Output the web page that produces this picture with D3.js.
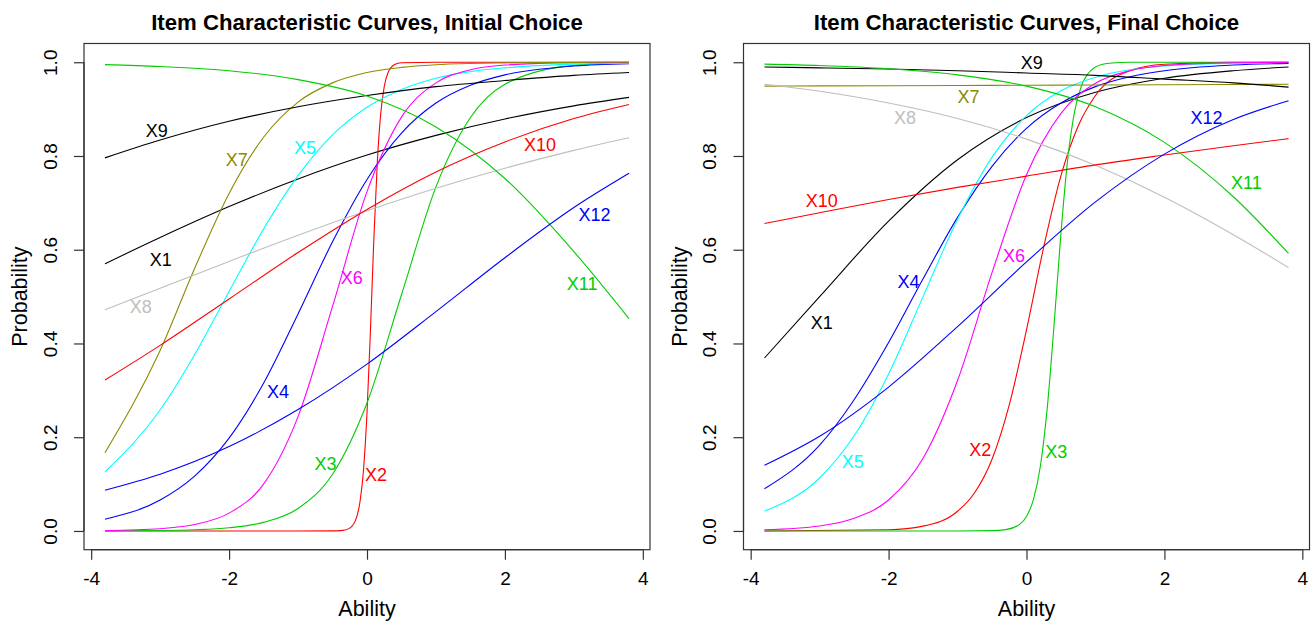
<!DOCTYPE html>
<html>
<head>
<meta charset="utf-8">
<script src="https://cdn.jsdelivr.net/npm/d3@7"></script>
<style>
  body { margin: 0; background: #ffffff; }
  svg { display: block; font-family: "Liberation Sans", Arial, Helvetica, sans-serif; }
</style>
</head>
<body>
<svg id="chart" width="1315" height="624"></svg>
<script>
// ---- Ability grids the curves are evaluated on ----
const abilityCoarse = [-3.8, -3, -2, -1, 0, 1, 2, 3, 3.8];
const abilityHalf = [-3.8, -3, -2.5, -2, -1.5, -1, -0.5, 0, 0.5, 1, 1.5, 2, 3, 3.8];
const abilityInitX2 = [-3.8, -1, -0.5, -0.35, -0.25, -0.15, -0.1, -0.05, 0, 0.05, 0.1, 0.15, 0.2, 0.25, 0.3, 0.4, 0.5, 1, 2, 3.8];
const abilityFinalX2 = [-3.8, -2, -1.5, -1, -0.75, -0.5, -0.25, 0, 0.25, 0.5, 0.75, 1, 1.5, 2, 3, 3.8];
const abilityFinalX3 = [-3.8, -1, -0.5, -0.3, -0.1, 0, 0.1, 0.2, 0.3, 0.4, 0.5, 0.6, 0.7, 0.8, 0.9, 1, 1.2, 1.5, 2, 3.8];

// ---- Items ----
const items = ["X1", "X2", "X3", "X4", "X5", "X6", "X7", "X8", "X9", "X10", "X11", "X12"];
const itemColors = ["#000000", "#FF0000", "#00CD00", "#0000FF", "#00FFFF", "#FF00FF",
                    "#8B8B00", "#BEBEBE", "#000000", "#FF0000", "#00CD00", "#0000FF"];

// ---- Probabilities, initial choice ----
const initX1  = [0.570, 0.626, 0.692, 0.751, 0.802, 0.844, 0.879, 0.907, 0.925];
const initX2  = [0, 0, 0.0001, 0.0012, 0.0061, 0.0296, 0.064, 0.131, 0.252, 0.428, 0.625, 0.788, 0.892, 0.948, 0.976, 0.995, 0.999, 1, 1, 1];
const initX3  = [0.0002, 0.0009, 0.0025, 0.0068, 0.0183, 0.048, 0.121, 0.273, 0.504, 0.734, 0.882, 0.953, 0.9934, 0.9986];
const initX4  = [0.025, 0.066, 0.117, 0.198, 0.315, 0.463, 0.617, 0.750, 0.849, 0.913, 0.951, 0.973, 0.992, 0.997];
const initX5  = [0.126, 0.258, 0.376, 0.511, 0.644, 0.758, 0.845, 0.904, 0.942, 0.966, 0.980, 0.988, 0.996, 0.998];
const initX6  = [0.0009, 0.0048, 0.0136, 0.038, 0.100, 0.244, 0.479, 0.724, 0.883, 0.956, 0.984, 0.994, 0.9993, 0.9999];
const initX7  = [0.167, 0.385, 0.560, 0.720, 0.840, 0.915, 0.956, 0.978, 0.989, 0.9946, 0.9973, 0.9987, 0.9997, 0.9999];
const initX8  = [0.472, 0.518, 0.575, 0.631, 0.683, 0.731, 0.774, 0.812, 0.839];
const initX9  = [0.796, 0.834, 0.874, 0.905, 0.929, 0.948, 0.961, 0.972, 0.978];
const initX10 = [0.322, 0.396, 0.495, 0.594, 0.686, 0.766, 0.830, 0.880, 0.910];
const initX11 = [0.995, 0.991, 0.982, 0.963, 0.928, 0.862, 0.752, 0.596, 0.453];
const initX12 = [0.087, 0.121, 0.180, 0.259, 0.356, 0.468, 0.583, 0.690, 0.763];

// ---- Probabilities, final choice ----
const finalX1  = [0.369, 0.500, 0.661, 0.792, 0.882, 0.936, 0.966, 0.982, 0.990];
const finalX2  = [0, 0.0025, 0.0103, 0.042, 0.082, 0.153, 0.269, 0.429, 0.606, 0.758, 0.864, 0.929, 0.982, 0.9956, 0.9997, 1];
const finalX3  = [0, 0, 0.0006, 0.0029, 0.014, 0.031, 0.067, 0.137, 0.261, 0.440, 0.636, 0.796, 0.897, 0.951, 0.977, 0.990, 0.998, 1, 1, 1];
const finalX4  = [0.090, 0.183, 0.280, 0.402, 0.538, 0.669, 0.778, 0.859, 0.913, 0.948, 0.969, 0.982, 0.994, 0.9975];
const finalX5  = [0.042, 0.113, 0.203, 0.335, 0.500, 0.665, 0.797, 0.886, 0.939, 0.968, 0.984, 0.992, 0.998, 0.9995];
const finalX6  = [0.0023, 0.0105, 0.027, 0.066, 0.155, 0.321, 0.551, 0.760, 0.891, 0.955, 0.982, 0.993, 0.999, 0.9998];
const finalX7  = [0.949, 0.9495, 0.950, 0.9505, 0.951, 0.9515, 0.952, 0.9525, 0.953];
const finalX8  = [0.953, 0.938, 0.913, 0.880, 0.836, 0.780, 0.712, 0.632, 0.562];
const finalX9  = [0.990, 0.988, 0.9855, 0.982, 0.977, 0.972, 0.964, 0.956, 0.947];
const finalX10 = [0.656, 0.679, 0.707, 0.733, 0.757, 0.781, 0.802, 0.822, 0.837];
const finalX11 = [0.996, 0.993, 0.986, 0.973, 0.949, 0.905, 0.829, 0.713, 0.592];
const finalX12 = [0.140, 0.202, 0.307, 0.436, 0.574, 0.702, 0.804, 0.878, 0.918];

// ---- Axis ticks ----
const xTicks = [-4, -2, 0, 2, 4];
const yTicks = [0, 0.2, 0.4, 0.6, 0.8, 1.0];

// ---- Panel definitions ----
const panels = [
  {
    title: "Item Characteristic Curves, Initial Choice",
    left: 84, right: 650,
    curves: [
      [abilityCoarse, initX1], [abilityInitX2, initX2], [abilityHalf, initX3], [abilityHalf, initX4],
      [abilityHalf, initX5], [abilityHalf, initX6], [abilityHalf, initX7], [abilityCoarse, initX8],
      [abilityCoarse, initX9], [abilityCoarse, initX10], [abilityCoarse, initX11], [abilityCoarse, initX12]
    ],
    labelAt: [[-2.99, 0.578], [0.13, 0.119], [-0.60, 0.143], [-1.29, 0.297], [-0.90, 0.817], [-0.22, 0.54],
              [-1.89, 0.792], [-3.28, 0.478], [-3.05, 0.853], [2.51, 0.824], [3.12, 0.527], [3.30, 0.674]]
  },
  {
    title: "Item Characteristic Curves, Final Choice",
    left: 743.5, right: 1309.5,
    curves: [
      [abilityCoarse, finalX1], [abilityFinalX2, finalX2], [abilityFinalX3, finalX3], [abilityHalf, finalX4],
      [abilityHalf, finalX5], [abilityHalf, finalX6], [abilityCoarse, finalX7], [abilityCoarse, finalX8],
      [abilityCoarse, finalX9], [abilityCoarse, finalX10], [abilityCoarse, finalX11], [abilityCoarse, finalX12]
    ],
    labelAt: [[-2.97, 0.443], [-0.67, 0.173], [0.43, 0.169], [-1.71, 0.532], [-2.52, 0.148], [-0.18, 0.587],
              [-0.84, 0.925], [-1.76, 0.880], [0.075, 0.999], [-2.97, 0.705], [3.19, 0.742], [2.61, 0.880]]
  }
];

const svg = d3.select("#chart");
svg.append("rect").attr("width", 1315).attr("height", 624).attr("fill", "#ffffff");

const plotTop = 43.5, plotBottom = 549.7;
const tickFont = 19, labFont = 21.5, titleFont = 22.2, curveFont = 18;

panels.forEach(panel => {
  const x = d3.scaleLinear().domain([-4.104, 4.104]).range([panel.left, panel.right]);
  const y = d3.scaleLinear().domain([-0.04, 1.04]).range([plotBottom, plotTop]);
  const g = svg.append("g");

  // curves
  const line = d3.line()
    .x(d => x(d[0]))
    .y(d => y(d[1]))
    .curve(d3.curveMonotoneX);

  panel.curves.forEach((c, i) => {
    const pts = c[0].map((a, k) => [a, c[1][k]]);
    g.append("path")
      .attr("d", line(pts))
      .attr("fill", "none")
      .attr("stroke", itemColors[i])
      .attr("stroke-width", 1.1);
  });

  // curve labels
  panel.labelAt.forEach((pos, i) => {
    g.append("text")
      .attr("x", x(pos[0]))
      .attr("y", y(pos[1]))
      .attr("text-anchor", "middle")
      .attr("dominant-baseline", "central")
      .attr("font-size", curveFont)
      .attr("fill", itemColors[i])
      .text(items[i]);
  });

  // plot frame
  g.append("rect")
    .attr("x", panel.left).attr("y", plotTop)
    .attr("width", panel.right - panel.left).attr("height", plotBottom - plotTop)
    .attr("fill", "none").attr("stroke", "#333333").attr("stroke-width", 1.2);

  // bottom axis
  const xAxis = g.append("g").attr("transform", `translate(0,${plotBottom})`)
    .call(d3.axisBottom(x).tickValues(xTicks).tickSize(10).tickPadding(12).tickFormat(d3.format("d")));
  xAxis.select(".domain").remove();
  xAxis.append("line").attr("x1", x(-4)).attr("x2", x(4)).attr("stroke", "#333333").attr("stroke-width", 1.2);
  xAxis.selectAll(".tick line").attr("stroke", "#333333").attr("stroke-width", 1.2);
  xAxis.selectAll(".tick text").attr("font-size", tickFont).attr("fill", "#000")
    .attr("font-family", "Liberation Sans, Arial, sans-serif")
    .text(d => d < 0 ? "-" + Math.abs(d) : String(d));

  // left axis
  const yAxis = g.append("g").attr("transform", `translate(${panel.left},0)`)
    .call(d3.axisLeft(y).tickValues(yTicks).tickSize(10).tickFormat(d3.format(".1f")));
  yAxis.select(".domain").remove();
  yAxis.append("line").attr("y1", y(0)).attr("y2", y(1)).attr("stroke", "#333333").attr("stroke-width", 1.2);
  yAxis.selectAll(".tick line").attr("stroke", "#333333").attr("stroke-width", 1.2);
  yAxis.selectAll(".tick text")
    .attr("font-size", tickFont).attr("fill", "#000")
    .attr("font-family", "Liberation Sans, Arial, sans-serif")
    .attr("x", null).attr("dy", null)
    .attr("text-anchor", "middle")
    .attr("dominant-baseline", "central")
    .attr("transform", "translate(-34,0) rotate(-90)");

  // titles
  const cx = (panel.left + panel.right) / 2;
  g.append("text")
    .attr("x", cx).attr("y", 22)
    .attr("text-anchor", "middle").attr("dominant-baseline", "central")
    .attr("font-size", titleFont).attr("font-weight", "bold")
    .text(panel.title);
  g.append("text")
    .attr("x", cx).attr("y", 609)
    .attr("text-anchor", "middle").attr("dominant-baseline", "central")
    .attr("font-size", labFont)
    .text("Ability");
  g.append("text")
    .attr("transform", `translate(${panel.left - 64},${(plotTop + plotBottom) / 2}) rotate(-90)`)
    .attr("text-anchor", "middle").attr("dominant-baseline", "central")
    .attr("font-size", labFont)
    .text("Probability");
});
</script>
</body>
</html>
